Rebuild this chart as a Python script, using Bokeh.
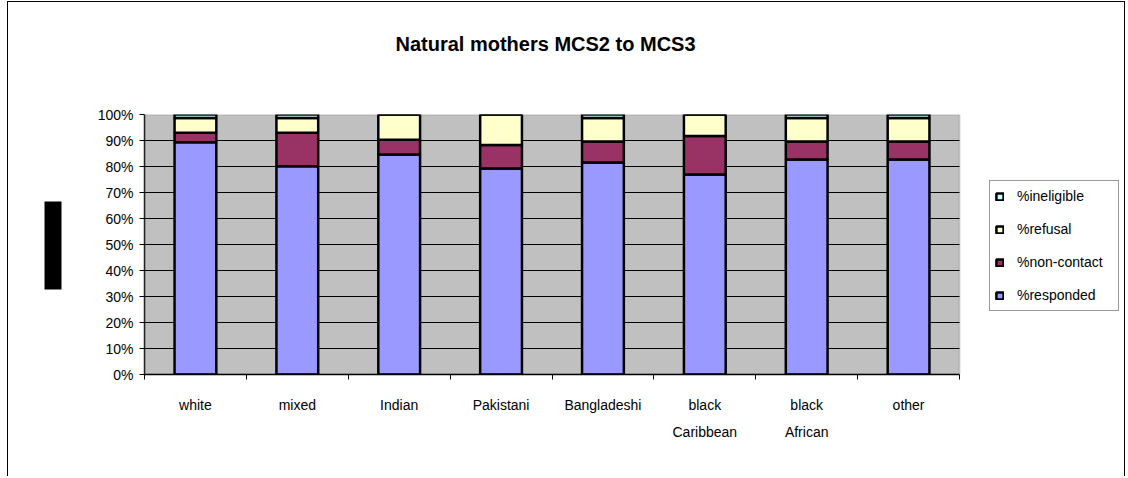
from bokeh.plotting import figure
from bokeh.models import (FixedTicker, PrintfTickFormatter, Legend, LegendItem,
                          ColumnDataSource, Range1d, LinearAxis, BoxAnnotation)
from bokeh.embed import file_html
from bokeh.resources import INLINE

# ---- data ----
categories = ["white", "mixed", "Indian", "Pakistani", "Bangladeshi",
              "black\nCaribbean", "black\nAfrican", "other"]
responded = [89.3, 80.1, 84.6, 79.2, 81.5, 76.9, 82.7, 82.7]
non_contact = [3.7, 12.9, 5.7, 9.1, 8.1, 14.8, 6.9, 6.9]
refusal = [5.7, 5.7, 9.7, 11.7, 9.1, 8.3, 9.1, 9.1]
ineligible = [1.3, 1.3, 0.0, 0.0, 1.3, 0.0, 1.3, 1.3]
series_keys = ["responded", "non_contact", "refusal", "ineligible"]
series_names = ["%responded", "%non-contact", "%refusal", "%ineligible"]
series_colors = ["#9999FF", "#993366", "#FFFFCC", "#CCFFFF"]
y_ticks = [0, 10, 20, 30, 40, 50, 60, 70, 80, 90, 100]
title_text = "Natural mothers MCS2 to MCS3"

FONT = "Liberation Sans"

n = len(categories)
centers = [i + 0.5 for i in range(n)]
bounds = list(range(n + 1))
y_max = y_ticks[-1]

# layout (pixels): figure content 1118 wide, frame from 136 to the right edge;
# the grey plotting area occupies the first 815 px of the frame.
FIG_W, FIG_H = 1118, 475
FRAME_LEFT = 136
PLOT_W = 815
frame_w = FIG_W - FRAME_LEFT
x_end = n * frame_w / PLOT_W

source = ColumnDataSource(dict(
    x=centers, responded=responded, non_contact=non_contact,
    refusal=refusal, ineligible=ineligible))

p = figure(width=FIG_W, height=FIG_H, output_backend="svg", toolbar_location=None,
           x_range=Range1d(0, x_end), y_range=Range1d(0, y_max),
           min_border_left=FRAME_LEFT, min_border_right=0,
           min_border_top=112, min_border_bottom=103)
p.styles = {"margin-left": "7px", "margin-top": "1px",
            "border-left": "1px solid black", "border-top": "1px solid black",
            "border-right": "1px solid black"}

p.background_fill_color = "white"
p.border_fill_color = "white"
p.outline_line_color = None
p.xgrid.visible = False
p.ygrid.visible = False

xa = p.xaxis[0]
ya = p.yaxis[0]

# grey plotting area with its grey border
p.add_layout(BoxAnnotation(left=0, right=n, bottom=0, top=y_max,
                           fill_color="#C0C0C0", fill_alpha=1.0,
                           line_color="#808080", line_width=2,
                           level="underlay"))

# horizontal grid lines (inside the grey area only)
grid_y = y_ticks[1:-1]
p.segment(x0=[0] * len(grid_y), x1=[n] * len(grid_y), y0=grid_y, y1=grid_y,
          line_color="black", line_width=1)

renderers = p.vbar_stack(series_keys, x="x", width=0.41, source=source,
                         fill_color=series_colors, line_color="black",
                         line_width=2.5)

# spacer between frame and title (invisible axis with one invisible tick)
top_spacer = LinearAxis(ticker=FixedTicker(ticks=[n + 0.5], minor_ticks=[]),
                        axis_line_color=None, major_tick_line_color=None,
                        major_tick_out=55, major_tick_in=0,
                        minor_tick_out=0, minor_tick_in=0,
                        major_label_overrides={n + 0.5: ""},
                        major_label_standoff=0)
p.add_layout(top_spacer, "above")

# title
p.title.text = title_text
p.title.align = "left"
p.title.offset = 251
p.title.text_font = FONT
p.title.text_font_size = "20px"
p.title.text_font_style = "bold"
p.title.text_color = "black"
p.title.standoff = 10

# y axis
yt = FixedTicker(ticks=y_ticks)
ya.ticker = yt
ya.formatter = PrintfTickFormatter(format="%d%%")
ya.major_tick_out = 5
ya.major_tick_in = 0
ya.minor_tick_out = 0
ya.minor_tick_in = 0
ya.axis_line_color = "#222222"
ya.axis_line_width = 1.5
ya.major_tick_line_color = "black"
ya.major_label_standoff = 6
ya.major_label_text_font = FONT
ya.major_label_text_font_size = "14px"
ya.major_label_text_color = "black"

# decorative black block to the left of the axis (drawn as one wide tick)
block_axis = LinearAxis(ticker=FixedTicker(ticks=[49.6], minor_ticks=[]),
                        axis_line_color=None,
                        major_tick_line_color="black",
                        major_tick_line_width=88,
                        major_tick_in=-33, major_tick_out=50,
                        minor_tick_out=0, minor_tick_in=0,
                        major_label_overrides={49.6: ""},
                        major_label_standoff=0)
p.add_layout(block_axis, "left")

# x axis
xa.ticker = FixedTicker(ticks=centers, minor_ticks=bounds)
xa.bounds = (0, n)
xa.major_label_overrides = {c: lab for c, lab in zip(centers, categories)}
xa.major_tick_out = 0
xa.major_tick_in = 0
xa.minor_tick_out = 5
xa.minor_tick_in = 0
xa.minor_tick_line_color = "black"
xa.axis_line_color = "black"
xa.axis_line_width = 1.5
xa.major_label_standoff = 17
xa.major_label_text_font = FONT
xa.major_label_text_font_size = "14px"
xa.major_label_text_color = "black"
xa.major_label_text_line_height = 1.7

# legend (reverse order, like the reference), inside the frame right of the grey area
items = [LegendItem(label=name, renderers=[r])
         for name, r in zip(series_names, renderers)][::-1]
legend = Legend(items=items, location=(845, 63), orientation="vertical",
                padding=5, margin=0, spacing=13,
                glyph_width=9, glyph_height=9, label_standoff=13,
                label_height=20, label_width=96,
                label_text_font=FONT, label_text_font_size="14px",
                label_text_color="black",
                border_line_color="#333333", border_line_width=1,
                background_fill_color="white", background_fill_alpha=1.0)
p.add_layout(legend, "center")

open("out.html", "w").write(file_html(p, INLINE))
